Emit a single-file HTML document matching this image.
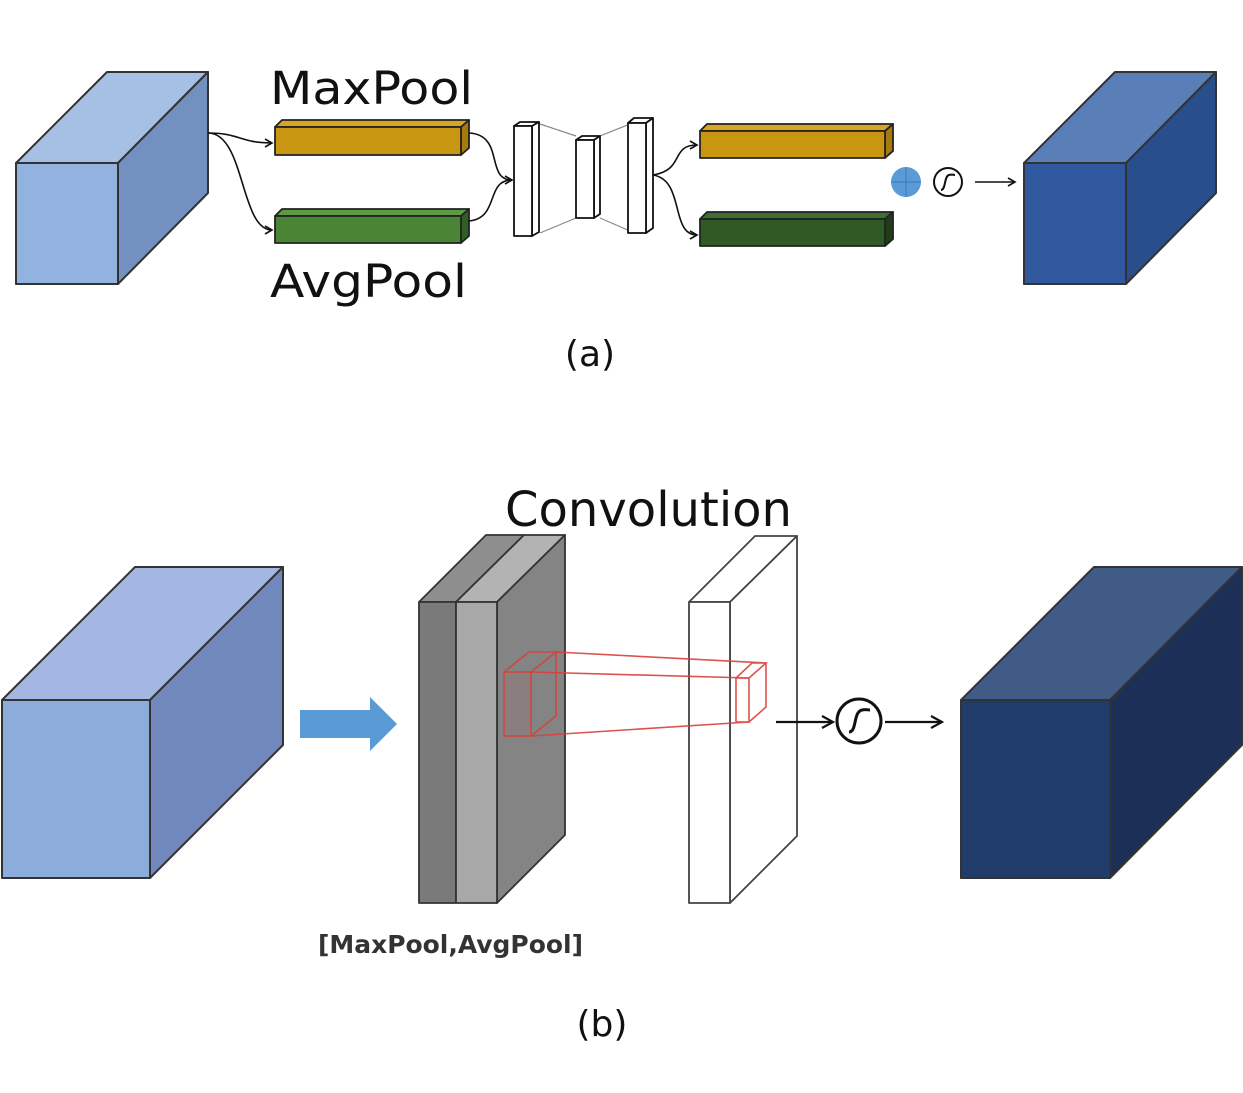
<!DOCTYPE html>
<html><head><meta charset="utf-8"><style>
html,body{margin:0;padding:0;background:#fff;}
svg{display:block;}
text{font-family:"DejaVu Sans","Liberation Sans",sans-serif;}
</style></head><body>
<svg width="1243" height="1093" viewBox="0 0 1243 1093" xmlns="http://www.w3.org/2000/svg">
<defs>
<marker id="ah" markerWidth="10" markerHeight="10" refX="8" refY="5" orient="auto" markerUnits="userSpaceOnUse">
<path d="M1,1 L8,5 L1,9" fill="none" stroke="#111" stroke-width="1.6"/></marker>
<marker id="ah2" markerWidth="14" markerHeight="14" refX="12" refY="7" orient="auto" markerUnits="userSpaceOnUse">
<path d="M1,1 L12,7 L1,13" fill="none" stroke="#111" stroke-width="2.2"/></marker>
</defs>
<g stroke="#333" stroke-width="2" stroke-linejoin="round">
<polygon points="16,163 107,72 208,72 118,163" fill="#a6c0e4"/>
<polygon points="118,163 208,72 208,193 118,284" fill="#7290c0"/>
<rect x="16" y="163" width="102" height="121" fill="#92b3e0"/>
<polygon points="1024,163 1115,72 1216,72 1126,163" fill="#5a7fb8"/>
<polygon points="1126,163 1216,72 1216,193 1126,284" fill="#284e8c"/>
<rect x="1024" y="163" width="102" height="121" fill="#2f589e"/>
</g>
<g stroke="#222" stroke-width="1.8" stroke-linejoin="round">
<polygon points="275,127 282,120 469,120 461,127" fill="#d9a623"/>
<polygon points="461,127 469,120 469,148 461,155" fill="#a67a0c"/>
<rect x="275" y="127" width="186" height="28" fill="#c99612"/>
<polygon points="275,216 282,209 469,209 461,216" fill="#5d9a48"/>
<polygon points="461,216 469,209 469,236 461,243" fill="#2f5f23"/>
<rect x="275" y="216" width="186" height="27" fill="#4a8536"/>
<polygon points="700,131 707,124 893,124 885,131" fill="#d9a623"/>
<polygon points="885,131 893,124 893,151 885,158" fill="#a67a0c"/>
<rect x="700" y="131" width="185" height="27" fill="#c99612"/>
<polygon points="700,219 707,212 893,212 885,219" fill="#3f6e30"/>
<polygon points="885,219 893,212 893,239 885,246" fill="#1f3e18"/>
<rect x="700" y="219" width="185" height="27" fill="#2f5a25"/>
</g>
<g stroke="#888" stroke-width="1.2"><line x1="540" y1="124" x2="576" y2="136"/><line x1="540" y1="233" x2="576" y2="218"/><line x1="600" y1="136" x2="630" y2="124"/><line x1="600" y1="218" x2="630" y2="231"/></g>
<g stroke="#111" stroke-width="1.8" fill="#fff" stroke-linejoin="round">
<polygon points="514,126 520,122 539,122 532,126"/><polygon points="532,126 539,122 539,232 532,236"/><rect x="514" y="126" width="18" height="110"/>
<polygon points="576,140 582,136 600,136 594,140"/><polygon points="594,140 600,136 600,214 594,218"/><rect x="576" y="140" width="18" height="78"/>
<polygon points="628,123 634,118 653,118 646,123"/><polygon points="646,123 653,118 653,228 646,233"/><rect x="628" y="123" width="18" height="110"/>
</g>
<g fill="none" stroke="#111" stroke-width="1.6">
<path d="M208,133 C240,133 240,143 272,143" marker-end="url(#ah)"/>
<path d="M208,133 C245,133 240,230 272,230" marker-end="url(#ah)"/>
<path d="M469,133 C505,135 485,180 512,180" marker-end="url(#ah)"/>
<path d="M469,221 C500,218 485,180 512,180"/>
<path d="M653,175 C685,170 670,145 697,145" marker-end="url(#ah)"/>
<path d="M653,175 C685,180 670,235 697,235" marker-end="url(#ah)"/>
<line x1="975" y1="182" x2="1015" y2="182" marker-end="url(#ah)"/>
</g>
<circle cx="906" cy="182" r="15" fill="#5b9bd5"/>
<line x1="891" y1="182" x2="921" y2="182" stroke="#3d7fbf" stroke-width="1.2"/><line x1="906" y1="167" x2="906" y2="197" stroke="#3d7fbf" stroke-width="1.2"/>
<circle cx="948" cy="182" r="14" fill="#fff" stroke="#111" stroke-width="2"/>
<path d="M941,190 C946,190 944,176 949,175 C952,174 953,175 955,175" fill="none" stroke="#111" stroke-width="2"/>
<text x="270" y="104" font-size="45" fill="#111" textLength="203" lengthAdjust="spacingAndGlyphs">MaxPool</text>
<text x="270" y="297" font-size="45" fill="#111" textLength="197" lengthAdjust="spacingAndGlyphs">AvgPool</text>
<text x="590" y="366" font-size="36" text-anchor="middle" fill="#111">(a)</text>

<g stroke="#333" stroke-width="2" stroke-linejoin="round">
<polygon points="2,700 135,567 283,567 150,700" fill="#a4b6e2"/>
<polygon points="150,700 283,567 283,745 150,878" fill="#7088bc"/>
<rect x="2" y="700" width="148" height="178" fill="#8cacdc"/>
<polygon points="961,700 1094,567 1242,567 1110,700" fill="#415b87"/>
<polygon points="1110,700 1242,567 1242,745 1110,878" fill="#1b2f57"/>
<rect x="961" y="700" width="149" height="178" fill="#203c6b"/>
</g>
<polygon points="300,710 370,710 370,697 397,724 370,751 370,738 300,738" fill="#5b9bd5"/>
<g stroke="#333" stroke-width="1.8" stroke-linejoin="round">
<polygon points="419,602 486,535 524,535 456,602" fill="#8e8e8e"/>
<polygon points="456,602 524,535 565,535 497,602" fill="#b3b3b3"/>
<polygon points="497,602 565,535 565,835 497,903" fill="#848484"/>
<rect x="419" y="602" width="37" height="301" fill="#7a7a7a"/>
<rect x="456" y="602" width="41" height="301" fill="#a8a8a8"/>
</g>
<g stroke="#444" stroke-width="1.8" fill="#fff" stroke-linejoin="round">
<polygon points="689,602 755,536 797,536 730,602"/>
<polygon points="730,602 797,536 797,836 730,903"/>
<rect x="689" y="602" width="41" height="301"/>
</g>
<g fill="none" stroke="#d9403a" stroke-width="1.6" opacity="0.9">
<rect x="504" y="672" width="27" height="64" fill="rgba(200,80,80,0.12)"/>
<polyline points="504,672 529,652 556,652 531,672"/>
<polyline points="531,736 556,716 556,652"/>
<line x1="556" y1="652" x2="766" y2="663"/>
<line x1="531" y1="672" x2="749" y2="678"/>
<line x1="531" y1="736" x2="749" y2="722"/>
<rect x="736" y="678" width="13" height="44"/>
<polyline points="736,678 752,663 766,663 749,678"/>
<polyline points="749,722 766,707 766,663"/>
</g>
<g fill="none" stroke="#111" stroke-width="2.2">
<line x1="776" y1="722" x2="833" y2="722" marker-end="url(#ah2)"/>
<line x1="885" y1="722" x2="942" y2="722" marker-end="url(#ah2)"/>
</g>
<circle cx="859" cy="721" r="22" fill="#fff" stroke="#111" stroke-width="3"/>
<path d="M849,732 C857,732 853,712 862,710 C866,709 868,710 870,710" fill="none" stroke="#111" stroke-width="3"/>
<text x="505" y="526" font-size="48" fill="#111" textLength="287" lengthAdjust="spacingAndGlyphs">Convolution</text>
<text x="318" y="953" font-size="25" font-weight="bold" fill="#333" textLength="265" lengthAdjust="spacingAndGlyphs">[MaxPool,AvgPool]</text>
<text x="602" y="1036" font-size="36" text-anchor="middle" fill="#111">(b)</text>
</svg>
</body></html>
